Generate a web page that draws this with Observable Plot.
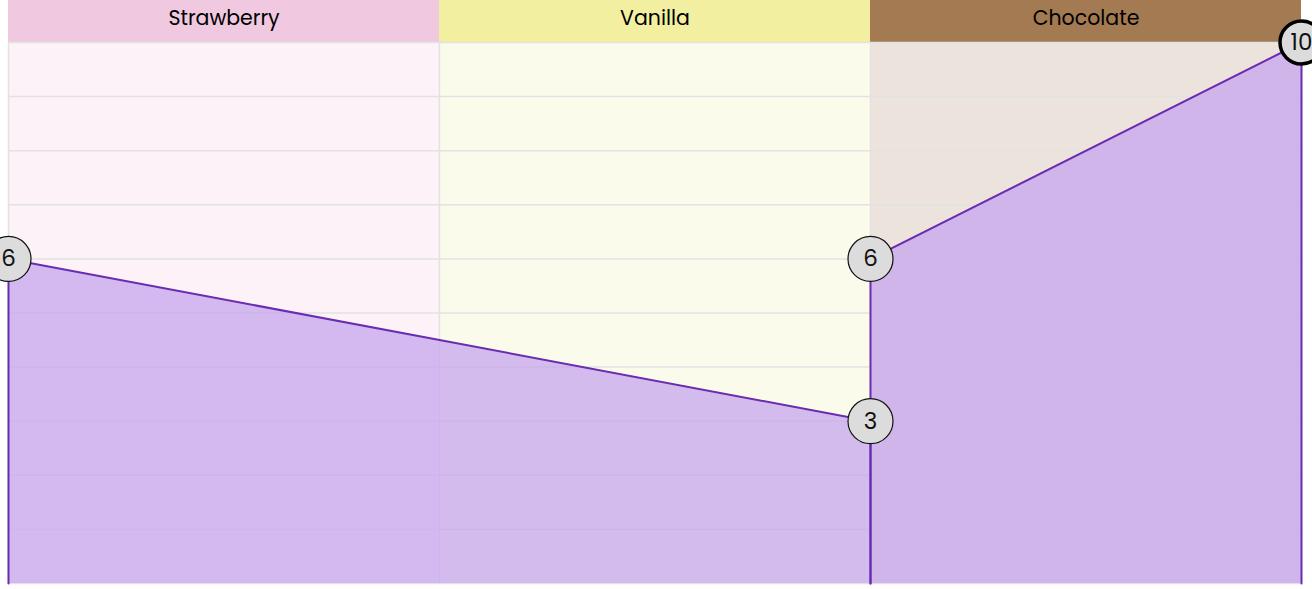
<!DOCTYPE html>
<html>
<head>
<meta charset="utf-8">
<script src="https://cdn.jsdelivr.net/npm/d3@7"></script>
<script src="https://cdn.jsdelivr.net/npm/@observablehq/plot@0.6"></script>
<style>
  html, body { margin: 0; padding: 0; background: #fff; }
  svg { display: block; }
</style>
</head>
<body>
<div id="chart"></div>
<script>
const categories = ["Strawberry", "Vanilla", "Chocolate"];
const headerColors = ["#f0c8e0", "#f2f0a0", "#a47a52"];
const bgColors = ["#fcf2f8", "#fbfbec", "#ece4dc"];
const pointX = [0, 2, 2, 3];
const values = [6, 3, 6, 10];
const segA = [[0, 0], [0, 6], [2, 3], [2, 0]];
const segB = [[2, 0], [2, 6], [3, 10], [3, 0]];
const yTicks = [0, 1, 2, 3, 4, 5, 6, 7, 8, 9, 10];

const cols = categories.map((c, i) => ({name: c, x1: i, x2: i + 1, head: headerColors[i], bg: bgColors[i]}));
const pts = pointX.map((x, i) => ({x, y: values[i]}));
const lines = [
  ...segA.map(([x, y]) => ({x, y, s: "a"})),
  ...segB.map(([x, y]) => ({x, y, s: "b"}))
];

const chart = Plot.plot({
  width: 1312,
  height: 589,
  marginLeft: 8,
  marginRight: 11,
  marginTop: 42,
  marginBottom: 6,
  style: {fontFamily: "Poppins, Inter, 'Open Sans', sans-serif", background: "#fff"},
  x: {domain: [0, 3], axis: null},
  y: {domain: [0, 10], axis: null},
  marks: [
    Plot.rect(cols, {x1: "x1", x2: "x2", y1: 0, y2: 10, fill: "bg"}),
    Plot.rect(cols, {x1: "x1", x2: "x2", y1: 10, y2: 10.78, fill: "head"}),
    Plot.text(cols, {x: d => d.x1 + 0.5, y: 10.44, text: "name", fontSize: 20.5, fill: "#000"}),
    Plot.ruleY(yTicks, {stroke: "#e2e2e2", strokeWidth: 1.5}),
    Plot.ruleX([0, 1, 2, 3], {y1: 0, y2: 10, stroke: "#e2e2e2", strokeWidth: 1.5}),
    Plot.area(pts, {x1: "x", y1: 0, y2: "y", fill: "#c6a5ed", fillOpacity: 0.75}),
    Plot.line(lines, {x: "x", y: "y", z: "s", stroke: "#6a2cb0", strokeWidth: 2}),
    Plot.dot(pts.filter(d => d.y !== 10), {x: "x", y: "y", r: 22.5, fill: "#dcdcdc", stroke: "#111", strokeWidth: 1.2}),
    Plot.dot(pts.filter(d => d.y === 10), {x: "x", y: "y", r: 21.5, fill: "#dcdcdc", stroke: "#000", strokeWidth: 3.5}),
    Plot.text(pts, {x: "x", y: "y", text: d => String(d.y), fontSize: 23, fill: "#111"})
  ]
});
document.getElementById("chart").appendChild(chart);
</script>
</body>
</html>
